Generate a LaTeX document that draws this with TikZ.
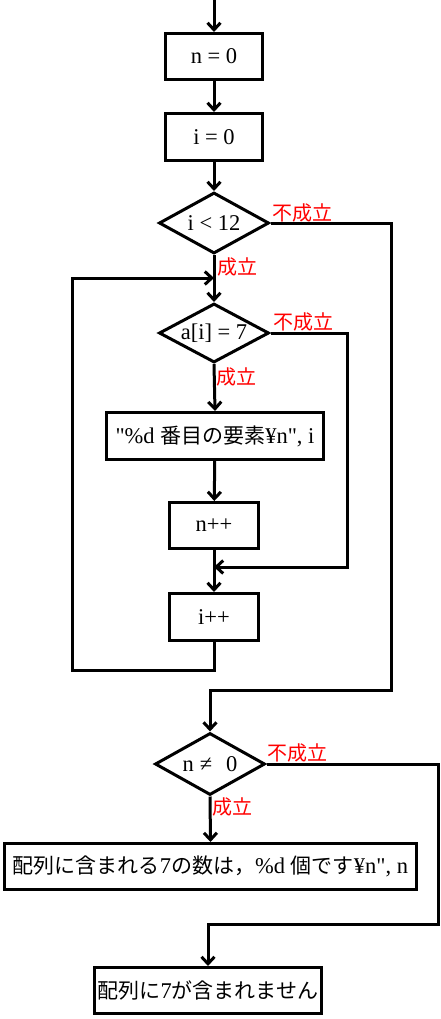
\documentclass[tikz,border=0pt]{standalone}
\usepackage{fontspec}
\newfontfamily\tm{Liberation Serif}
\newfontfamily\jp{Noto Sans CJK JP}
\usetikzlibrary{shapes.geometric,arrows.meta}
\begin{document}
\begin{tikzpicture}[x=1pt,y=-1pt,
  every node/.style={font=\fontsize{22.5}{26}\selectfont\tm},
  proc/.style={draw,line width=3pt,rectangle,inner sep=0pt},
  cond/.style={draw,line width=3pt,diamond,aspect=2,inner sep=0pt},
  conn/.style={line width=3pt},
  arr/.style={conn,-{Straight Barb[length=7pt,width=13pt]}},
  lab/.style={text=red,inner sep=0pt,font=\fontsize{20}{22}\selectfont\jp}]
\useasboundingbox (0,0) rectangle (440,1019);
% nodes
\coordinate (start) at (214,0);
\node[proc,minimum width=97pt,minimum height=46pt] (n0) at (214,56.5) {n = 0};
\node[proc,minimum width=97pt,minimum height=47pt] (i0) at (214,137) {i = 0};
\node[cond,minimum width=110pt,minimum height=61pt] (d1) at (214,223) {i < 12};
\node[cond,minimum width=110pt,minimum height=59pt] (d2) at (214,333) {a[i] = 7};
\node[proc,minimum width=217pt,minimum height=47pt] (pr) at (215,436) {"\%d {\fontsize{21}{24}\selectfont\jp 番目の要素}¥n", i};
\node[proc,minimum width=89pt,minimum height=46pt] (np) at (214,525.5) {n++};
\node[proc,minimum width=89pt,minimum height=47pt] (ip) at (214,617) {i++};
\node[cond,minimum width=110pt,minimum height=62pt] (d3) at (210,764) {n\hspace{6pt}≠\hspace{14pt}0};
\node[proc,minimum width=412pt,minimum height=46pt] (out1) at (210.5,866.5) {{\fontsize{21}{24}\selectfont\jp 配列に含まれる}7{\fontsize{21}{24}\selectfont\jp の数は，}\%d {\fontsize{21}{24}\selectfont\jp 個です}¥n", n};
\node[proc,minimum width=227pt,minimum height=46pt] (out2) at (208,990.5) {{\fontsize{21}{24}\selectfont\jp 配列に}7{\fontsize{21}{24}\selectfont\jp が含まれません}};
% labels
\node[lab] (l1n) at (302,212.5) {不成立};
\node[lab] (l1y) at (237,267) {成立};
\node[lab] (l2n) at (303,321.5) {不成立};
\node[lab] (l2y) at (236.5,377) {成立};
\node[lab] (l3n) at (297.5,752.5) {不成立};
\node[lab] (l3y) at (232,806.5) {成立};
% helper coordinates
\coordinate (r1) at (391,690);
\coordinate (r2) at (347,567);
\coordinate (m) at (214,567);
\coordinate (lb) at (72,670);
\coordinate (lt) at (214,278);
\coordinate (r3) at (438,924);
% connectors
\draw[arr] (start) -- (n0);
\draw[arr] (n0) -- (i0);
\draw[arr] (i0) -- (d1);
\draw[arr] (d1.south) -- (d2.north);
\draw[arr] (d2.south) -- (pr.north);
\draw[arr] (pr) -- (np);
\draw[arr] (np) -- (ip);
\draw[arr] (d2.east) -| (r2) -- (m);
\draw[arr] (ip.south) |- (lb) |- (lt);
\draw[arr] (d1.east) -| (r1) -| (d3.north);
\draw[arr] (d3.south) -- (out1.north);
\draw[arr] (d3.east) -| (r3) -| (out2.north);
\end{tikzpicture}
\end{document}
